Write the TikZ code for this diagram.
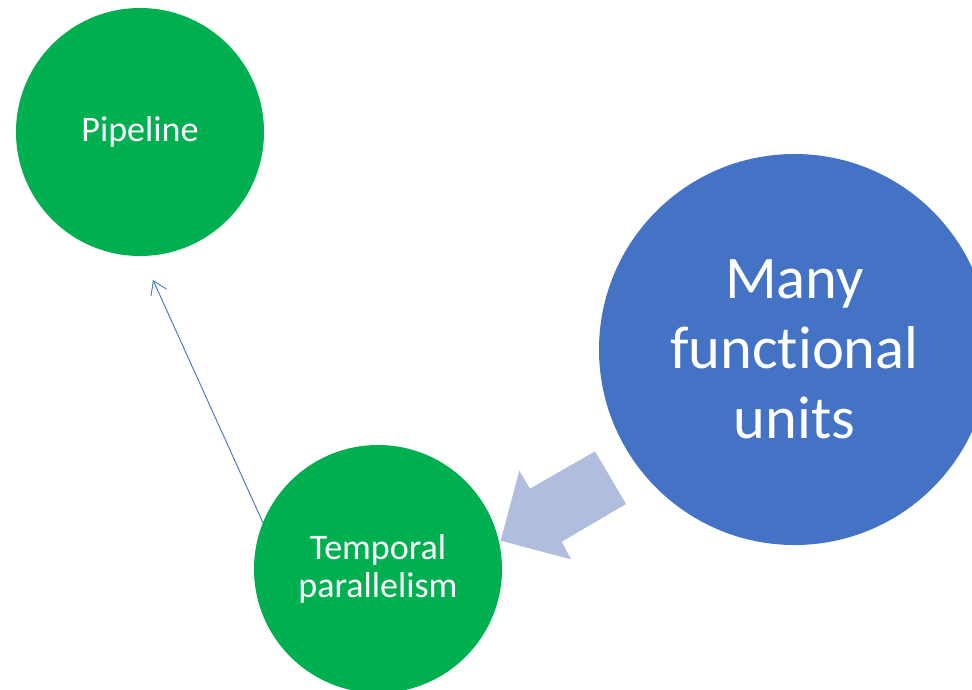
\documentclass[tikz,border=0pt]{standalone}
\usepackage{fontspec}
\setmainfont{Carlito}[RawFeature={-liga,-clig,-dlig}]
\usetikzlibrary{arrows.meta}
\definecolor{cgreen}{HTML}{00B050}
\definecolor{cblue}{HTML}{4472C4}
\definecolor{clight}{RGB}{176,189,223}
\begin{document}
\begin{tikzpicture}[x=1pt,y=-1pt,
  bubble/.style={circle,inner sep=0pt,text=white,align=center,draw=none},
  greenbubble/.style={bubble,fill=cgreen,minimum size=248pt,font=\fontsize{36}{38}\selectfont},
  bluebubble/.style={bubble,fill=cblue,minimum size=391pt,font=\fontsize{60.5}{70}\selectfont},
  thinarrow/.style={draw=cblue,line width=0.9pt,-{Straight Barb[length=13pt,width=17pt]}},
  blockarrow/.style={fill=clight,draw=none}]
\useasboundingbox (0,0) rectangle (972,689);
\begin{scope}
\clip (0,0) rectangle (972,689);
\node[greenbubble] (P) at (140,132) {Pipeline};
\node[greenbubble] (T) at (378,569) {Temporal\\parallelism};
\node[bluebubble] (M) at (794.5,349.5) {Many\\func\kern0pt tional\\units};
\end{scope}
\coordinate (tipP) at (153,280);
\draw[thinarrow] (T.158.7) -- (tipP);
\fill[blockarrow] (500.7,540.7) -- (519.3,470.7) -- (530,488.7) -- (595,451.3)
  -- (626,504) -- (561.7,541.7) -- (571,559.3) -- cycle;
\end{tikzpicture}
\end{document}
